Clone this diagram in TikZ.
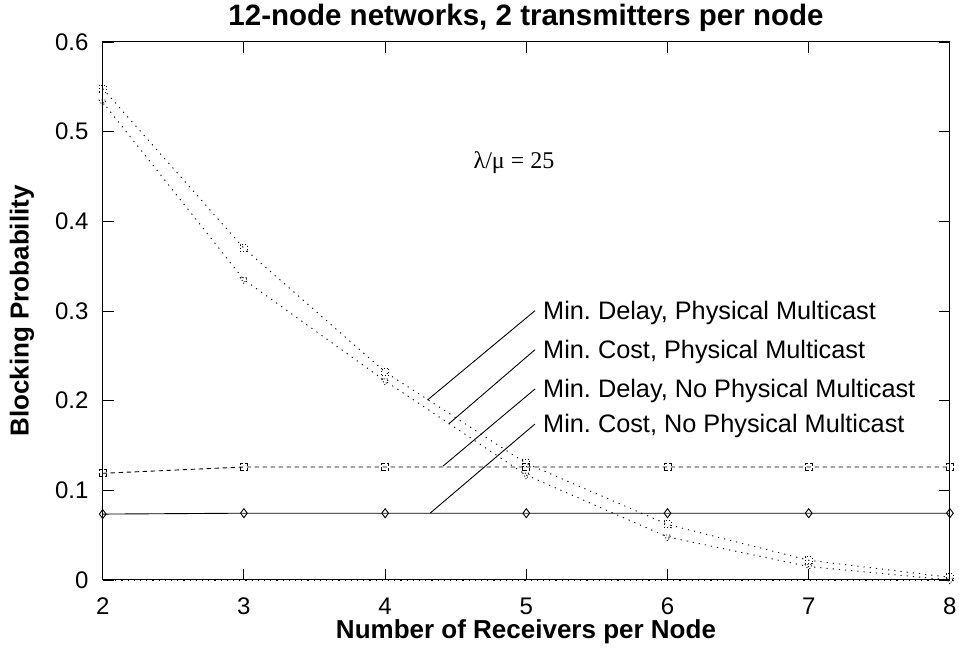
\documentclass[tikz,border=0pt]{standalone}
\usepackage{fontspec}
\setmainfont{Liberation Sans}
\newfontfamily\greekserif{Liberation Serif}
\usetikzlibrary{plotmarks}
\frenchspacing

\tikzset{
  axisline/.style={line width=1pt, black},
  tickmark/.style={line width=0.9pt, black},
  ticklab/.style={inner sep=0pt},
  seriesdot/.style={line width=0.9pt, dash pattern=on 1.2pt off 5pt, black},
  seriesdash/.style={line width=0.9pt, dash pattern=on 4.5pt off 3.5pt, black},
  seriessolid/.style={line width=0.9pt, black},
  leader/.style={line width=0.9pt, black},
  legendtext/.style={anchor=west, inner sep=0pt, font=\fontsize{25.3}{29}\selectfont,
    text height=18pt, text depth=0pt},
  axislabel/.style={inner sep=0pt, font=\fontsize{26}{30}\selectfont\bfseries},
}

\begin{document}
\begin{tikzpicture}[x=1pt, y=1pt, font=\fontsize{24}{28}\selectfont]
\useasboundingbox (0,0) rectangle (959,651);

% plotting area in data coordinates (x: 2..8, y: 0..0.6)
\begin{scope}[shift={(-179.7,71)}, x=141.2pt, y=896.7pt]
  % frame
  \draw[axisline] (2,0) rectangle (8,0.6);
  % x ticks on bottom and top
  \foreach \d in {2,...,8} {
    \draw[tickmark] (\d,0) -- ++(0,11pt);
    \draw[tickmark] (\d,0.6) -- ++(0,-11pt);
    \node[ticklab, anchor=north, yshift=-18pt] (xt\d) at (\d,0) {\d};
  }
  % y ticks on left and right
  \foreach \v/\t in {0/0,0.1/0.1,0.2/0.2,0.3/0.3,0.4/0.4,0.5/0.5,0.6/0.6} {
    \draw[tickmark] (2,\v) -- ++(11pt,0);
    \draw[tickmark] (8,\v) -- ++(-11pt,0);
    \node[ticklab, anchor=east, xshift=-14pt] (yt\t) at (2,\v) {\t};
  }

  % series along zero
  \draw[seriesdot] (2,0) -- (8,0);

  % Min. Cost, No Physical Multicast
  \draw[seriessolid] plot[mark=diamond, mark size=4.5pt, mark options={solid, fill=white}]
    coordinates {(2,0.0735) (3,0.0745) (4,0.0745) (5,0.0745) (6,0.0745) (7,0.0745) (8,0.0745)};

  % Min. Delay, No Physical Multicast
  \draw[seriesdash] plot[mark=square, mark size=3.5pt, mark options={dash pattern=on 4pt off 2pt}]
    coordinates {(2,0.119) (3,0.126) (4,0.126) (5,0.126) (6,0.126) (7,0.126) (8,0.126)};

  % Min. Delay, Physical Multicast
  \draw[seriesdot] plot[mark=square, mark size=3.5pt, mark options={dash pattern=on 1pt off 2pt}]
    coordinates {(2,0.548) (3,0.370) (4,0.232) (5,0.130) (6,0.062) (7,0.022) (8,0.003)};

  % Min. Cost, Physical Multicast
  \draw[seriesdot] plot[mark=triangle, mark size=4pt, mark options={dash pattern=on 1pt off 2pt, rotate=180}]
    coordinates {(2,0.533) (3,0.335) (4,0.222) (5,0.117) (6,0.048) (7,0.015) (8,0.000)};

  % leader line anchors on the curves
  \coordinate (s1) at (4.30,0.2007);
  \coordinate (s2) at (4.45,0.174);
  \coordinate (s3) at (4.41,0.127);
  \coordinate (s4) at (4.32,0.0747);
\end{scope}

% legend texts
\node[legendtext] (l1) at (543,340.3) {Min. Delay, Physical Multicast};
\node[legendtext] (l2) at (543,301.3) {Min. Cost, Physical Multicast};
\node[legendtext] (l3) at (543,262) {Min. Delay, No Physical Multicast};
\node[legendtext] (l4) at (543,227) {Min. Cost, No Physical Multicast};
\draw[leader] (s1) -- ([xshift=-8pt]l1.west);
\draw[leader] (s2) -- ([xshift=-8pt]l2.west);
\draw[leader] (s3) -- ([xshift=-8pt]l3.west);
\draw[leader] (s4) -- ([xshift=-8pt]l4.west);

% load annotation
\node[inner sep=0pt] (load) at (514,488) {\greekserif λ/μ = 25};

% title and axis labels
\node[inner sep=0pt, font=\fontsize{29.5}{34}\selectfont\bfseries] (title) at (526,633)
  {12-node networks, 2 transmitters per node};
\node[axislabel] (xlabel) at (526,19) {Number of Receivers per Node};
\node[axislabel, rotate=90] (ylabel) at (22,340) {Blocking Probability};
\end{tikzpicture}
\end{document}
